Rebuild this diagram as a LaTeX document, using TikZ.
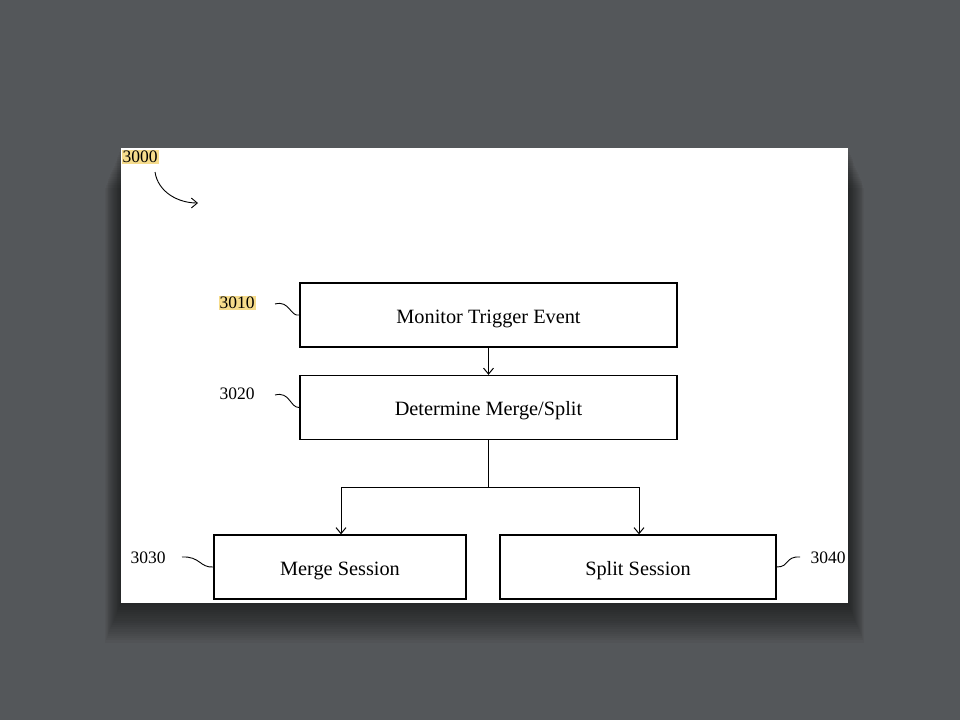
\documentclass[tikz,border=0pt]{standalone}
\usepackage{fontspec}
\setmainfont{Liberation Serif}
\usetikzlibrary{arrows.meta}
\definecolor{bgc}{HTML}{54575A}
\definecolor{hl}{HTML}{F6DC8C}
\tikzset{
  stepbox/.style={draw=black, line width=1.3pt, minimum width=#1, minimum height=64pt, inner sep=0pt, text height=16pt, text depth=0pt, font=\fontsize{20.3}{22}\selectfont},
  lbl/.style={font=\fontsize{17.5}{19}\selectfont, inner sep=1pt, anchor=center},
  hllbl/.style={lbl, fill=hl},
  conn/.style={line width=1pt, -{Straight Barb[length=6pt,width=10pt,line width=1pt]}},
  plain/.style={line width=1pt},
  squig/.style={line width=0.9pt}
}
\begin{document}
\begin{tikzpicture}[x=1pt,y=-1pt]
\useasboundingbox (0,0) rectangle (960,720);
\fill[bgc] (0,0) rectangle (960,720);
% shadow
\foreach \i in {1,...,18}{
  \fill[black, opacity=0.035] (121-\i*0.9,148+\i*2.2) rectangle (848+\i*0.9,603+\i*2.2);
}
\fill[white] (121,148) rectangle (848,603);
% boxes
\node[stepbox=377pt] (b1) at (488.5,315) {Monitor Trigger Event};
\node[stepbox=377pt] (b2) at (488.5,407.5) {Determine Merge/Split};
\node[stepbox=252pt] (b3) at (340,567) {Merge Session};
\node[stepbox=276pt] (b4) at (638,567) {Split Session};
% connectors
\draw[conn] (b1.south) -- (b2.north);
\coordinate (j) at (488.5,487);
\coordinate (jl) at (341,487);
\coordinate (jr) at (639,487);
\draw[plain] (b2.south) -- (j);
\draw[plain] (jl) -- (jr);
\draw[conn] (jl) -- (jl |- b3.north);
\draw[conn] (jr) -- (jr |- b4.north);
% labels
\node[hllbl] (l3000) at (140,157) {3000};
\node[hllbl] (l3010) at (237,303) {3010};
\node[lbl] (l3020) at (237,394) {3020};
\node[lbl] (l3030) at (148,558) {3030};
\node[lbl] (l3040) at (828,558) {3040};
\coordinate (a0) at (155,172);
\coordinate (a1) at (198,203);
\draw[conn, -{Straight Barb[length=6pt,width=10pt,line width=0.9pt]}, line width=0.9pt] (a0) .. controls (158,192) and (178,203) .. (a1);
% squiggles
\draw[squig] (275,304) .. controls (290,300) and (290,317) .. (b1.west);
\draw[squig] (275,395) .. controls (290,391) and (290,408) .. (b2.west);
\draw[squig] (182,557) .. controls (200,556) and (200,568) .. (b3.west);
\draw[squig] (800,557) .. controls (785,556) and (790,567) .. (b4.east);
\end{tikzpicture}
\end{document}
